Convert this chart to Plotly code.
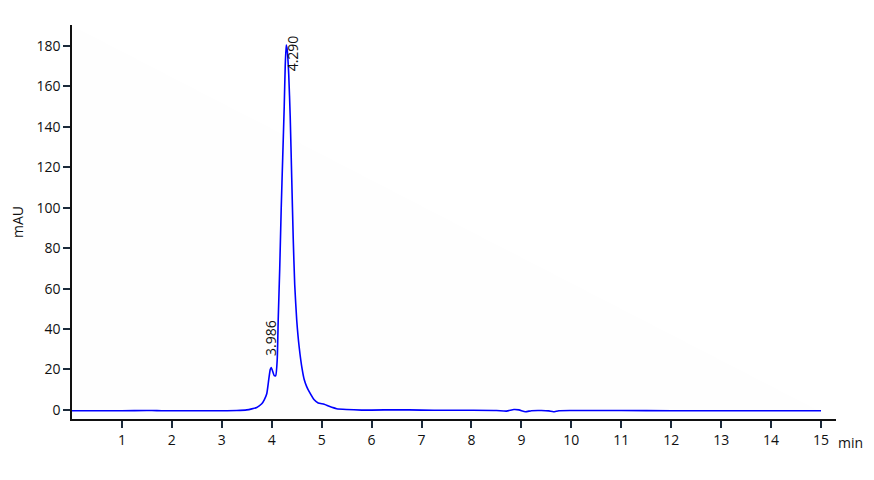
import plotly.graph_objects as go

# Retention time (min) and absorbance (mAU)
time_min = [0, 0.5, 1.0, 1.5, 1.6, 1.8, 2.0, 2.5, 3.0, 3.3, 3.5, 3.6, 3.7, 3.75, 3.8, 3.85,
            3.9, 3.94, 3.97, 3.99, 4.02, 4.05, 4.08, 4.11, 4.13, 4.16, 4.19, 4.22, 4.25,
            4.27, 4.29, 4.31, 4.34, 4.37, 4.40, 4.43, 4.46, 4.50, 4.55, 4.61, 4.65, 4.70,
            4.75, 4.85, 4.93, 5.05, 5.15, 5.3, 5.5, 5.8, 6.0, 6.5, 7.0, 7.5, 8.0, 8.5,
            8.7, 8.85, 8.95, 9.08, 9.2, 9.4, 9.55, 9.64, 9.75, 10.0, 10.5, 11, 12, 13, 14, 15]
absorbance = [-0.4, -0.4, -0.4, -0.3, -0.3, -0.4, -0.4, -0.4, -0.4, -0.3, 0.0, 0.5, 1.2, 2.0,
              3.0, 5.0, 8.0, 15.0, 20.0, 21.0, 19.0, 17.0, 17.0, 25.0, 45.0, 70.0, 100.0,
              125.0, 150.0, 170.0, 180.5, 178.0, 166.0, 145.0, 115.0, 85.0, 62.0, 44.5, 31.0,
              20.0, 15.0, 11.5, 9.0, 5.0, 3.4, 2.8, 1.8, 0.6, 0.2, -0.1, -0.1, 0.1, -0.1,
              -0.2, -0.2, -0.3, -0.6, 0.2, 0.0, -0.9, -0.4, -0.3, -0.5, -0.9, -0.4, -0.3,
              -0.3, -0.3, -0.4, -0.4, -0.4, -0.4]

peak_times = [3.986, 4.290]
peak_labels = ["3.986", "4.290"]
peak_label_y = [35.6, 176.5]
peak_xshift = [0, 6]

x_ticks = list(range(1, 16))
y_ticks = list(range(0, 181, 20))

FONT = "Open Sans, sans-serif"
TXT = "#111111"

fig = go.Figure()
fig.add_trace(go.Scatter(x=time_min, y=absorbance, mode="lines",
                         line=dict(color="#0000ff", width=1.6, shape="spline", smoothing=0.5),
                         hoverinfo="x+y", showlegend=False))

for t, lab, ly, xs in zip(peak_times, peak_labels, peak_label_y, peak_xshift):
    fig.add_annotation(x=t, y=ly, text=lab, textangle=-90, showarrow=False,
                       xanchor="center", yanchor="middle", xshift=xs,
                       font=dict(family=FONT, size=14, color=TXT))

# faint background triangle
fig.add_shape(type="path", xref="paper", yref="paper",
              path="M 0 1 L 0 0 L 1 0 Z", fillcolor="rgba(0,0,0,0.004)",
              line=dict(width=0), layer="below")

fig.add_annotation(xref="paper", yref="paper", x=1, y=0, text="min", showarrow=False,
                   xanchor="left", yanchor="middle", xshift=0, yshift=-23,
                   font=dict(family=FONT, size=14, color=TXT))
fig.add_annotation(xref="paper", yref="paper", x=0, y=0.5, text="mAU", showarrow=False,
                   textangle=-90, xanchor="center", yanchor="middle", xshift=-55,
                   font=dict(family=FONT, size=14, color=TXT))

fig.update_layout(
    width=866, height=472,
    margin=dict(l=64, r=38, t=17, b=61, autoexpand=False),
    plot_bgcolor="white", paper_bgcolor="white",
    font=dict(family=FONT, size=14, color=TXT),
    xaxis=dict(range=[0, 15.3], tickvals=x_ticks, ticktext=[str(v) for v in x_ticks],
               showgrid=False, zeroline=False, showline=True, linecolor="#111111",
               linewidth=1.5, ticks="outside", ticklen=7, tickwidth=2, tickcolor="#1b2a3a",
               automargin=False, tickfont=dict(family=FONT, size=14, color=TXT)),
    yaxis=dict(range=[-4.5, 190.4], tickvals=y_ticks, ticktext=[str(v) for v in y_ticks],
               showgrid=False, zeroline=False, showline=True, linecolor="#111111",
               linewidth=1.5, ticks="outside", ticklen=7, tickwidth=2, tickcolor="#1b2a3a",
               automargin=False, tickfont=dict(family=FONT, size=14, color=TXT)),
)

fig.write_html("out.html")
